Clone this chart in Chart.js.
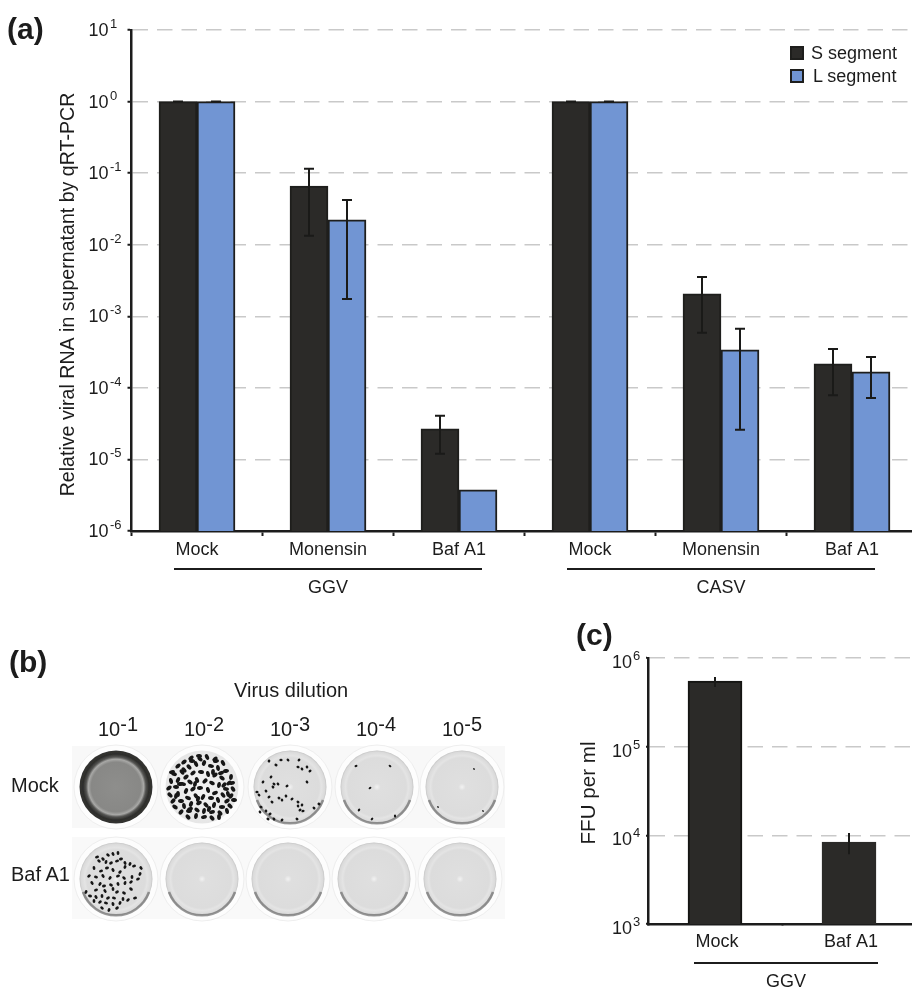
<!DOCTYPE html>
<html>
<head>
<meta charset="utf-8">
<title>Relative viral RNA</title>
<script src="https://cdn.jsdelivr.net/npm/chart.js@4/dist/chart.umd.min.js"></script>
<style>
  html, body { margin: 0; background: #fff; overflow: hidden; width: 912px; height: 987px; }
  body { position: relative; font-family: "Liberation Sans", Arial, sans-serif; color: #1c1c1c; }
  canvas { position: absolute; }
  #chartA { left: 0; top: 0; }
  #chartC { left: 570px; top: 633px; }
  .txt { position: absolute; white-space: nowrap; line-height: 1; }
  .panel { font-weight: bold; font-size: 30px; }
  .swatch { position: absolute; width: 10px; height: 10px; border: 2px solid #1e1e1c; }
  sup { font-size: 100%; line-height: 0; position: relative; vertical-align: 5px; }
  #plates { position: absolute; left: 0; top: 0; }
</style>
</head>
<body>
<canvas id="chartA" width="930" height="610"></canvas>
<canvas id="chartC" width="358" height="367"></canvas>
<svg id="plates" width="912" height="987" xmlns="http://www.w3.org/2000/svg"></svg>
<div id="texts"></div>

<script>
// panel (a)
const treatments = ['Mock', 'Monensin', 'Baf A1', 'Mock', 'Monensin', 'Baf A1']
const sSegment = [1, 0.066, 2.67e-5, 1, 2.06e-3, 2.16e-4]
const sLow = [1, 0.0133, 1.2e-5, 1, 5.9e-4, 7.9e-5]
const sHigh = [1, 0.115, 4.07e-5, 1, 3.55e-3, 3.5e-4]
const lSegment = [1, 0.0222, 3.76e-6, 1, 3.4e-4, 1.67e-4]
const lLow = [1, 0.00175, null, 1, 2.6e-5, 7.2e-5]
const lHigh = [1, 0.0423, null, 1, 6.7e-4, 2.7e-4]
const ticksA = [1e-6, 1e-5, 1e-4, 1e-3, 1e-2, 1e-1, 1, 10]
const virusNames = ['GGV', 'CASV']
const virusFrom = [0, 3]
const virusTo = [2, 5]

// panel (c)
const treatmentsC = ['Mock', 'Baf A1']
const ffu = [5.5e5, 8.4e3]
const ffuLow = [4.7e5, 6.1e3]
const ffuHigh = [6.1e5, 1.06e4]
const ticksC = [1e3, 1e4, 1e5, 1e6]

// panel (b)
const dilutions = ['-1', '-2', '-3', '-4', '-5']
const wellRows = ['Mock', 'Baf A1']

// plaques, dx dy from the centre of the well
const plaquesMock2 = [
  [-24,-21],[-18,-25],[-11,-29],[-3,-31],[5,-30],[13,-28],[21,-24],[-28,-13],[-20,-15],[-13,-20],[-6,-23],[2,-24],[9,-21],[16,-19],[24,-16],[29,-10],
  [-31,-6],[-24,-7],[-16,-10],[-9,-14],[-1,-15],[6,-13],[13,-12],[20,-9],[27,-4],[-33,1],[-26,0],[-19,-3],[-12,-5],[-5,-7],[3,-6],[10,-4],[17,-2],[24,2],[31,2],
  [-32,8],[-24,7],[-16,4],[-9,2],[-2,1],[6,3],[13,6],[21,8],[29,9],[-29,14],[-21,14],[-14,11],[-6,9],[1,10],[9,11],[16,13],[25,14],[32,13],
  [-27,20],[-18,19],[-11,17],[-3,16],[4,18],[12,18],[20,20],[28,19],[-21,25],[-13,24],[-5,23],[2,24],[10,25],[18,26],[25,24],[-14,30],[-6,29],[2,30],[10,31],[17,30],
  [-30,-15],[-2,-28],[30,-4],[-10,-26],[-22,-3],[14,-26],[-7,-3],[11,-15],[22,-2],[-26,9],[-12,22],[7,22],[26,7],[-4,12],[-18,-17],[19,-14]
]
const plaquesBaf1 = [
  [-19,-22],[-17,-18],[-13,-20],[-8,-24],[-3,-25],[2,-26],[-10,-17],[-5,-16],[1,-18],[5,-20],[9,-16],[14,-15],[-22,-11],[-15,-8],[-9,-11],[-3,-9],[4,-7],[9,-12],[18,-13],[25,-11],
  [-27,-3],[-20,-2],[-13,-3],[-6,-1],[2,-3],[8,-1],[16,-2],[24,-5],[-24,4],[-16,5],[-12,7],[-5,6],[2,5],[9,4],[15,3],[22,0],[-20,11],[-11,12],[-3,10],[1,13],[8,14],[15,10],
  [-30,13],[-26,17],[-20,18],[-14,17],[-8,19],[-2,19],[7,20],[-22,22],[-16,23],[-10,24],[-3,25],[4,24],[12,21],[-14,29],[-7,31],[1,29],[19,19]
]
const plaquesMock3 = [
  [-21,-26],[-14,-22],[-9,-27],[-2,-27],[9,-27],[8,-20],[12,-18],[17,-20],[20,-16],[-27,-5],[-19,-10],[-16,-3],[-17,0],[-12,-3],[-33,5],[-31,8],[-24,4],[-21,10],[-29,20],
  [-24,24],[-20,27],[-18,15],[-11,11],[-8,13],[-4,9],[2,12],[8,15],[8,19],[12,18],[10,23],[13,24],[24,21],[29,17],[-30,25],[-22,32],[-16,32],[-8,33],[7,32],[-3,-1],[17,-5]
]
const plaquesMock4 = [[-21,-21],[13,-21],[-7,1],[-18,23],[18,29],[-5,32]]
const plaquesFew = [[-24,20],[12,-18],[21,24]]

const wellColumnsTop = [116, 202, 290, 377, 462]
const wellColumnsBottom = [116, 202, 288, 374, 460]
const ink = '#1c1c1c'

// error bars are read through the chart's own scale and bar elements
const errorBarPlugin = {
  id: 'errorBars',
  afterDatasetsDraw(chart, args, opts) {
    const { ctx } = chart
    const y = chart.scales.y
    opts.low.forEach((low, d) => {
      const bars = chart.getDatasetMeta(d).data
      low.forEach((lo, i) => {
        const hi = opts.high[d][i]
        if (lo === null) return
        const x = bars[i].x
        ctx.save()
        ctx.strokeStyle = '#1a1a18'
        ctx.lineWidth = 2
        ctx.beginPath()
        ctx.moveTo(x, y.getPixelForValue(hi))
        ctx.lineTo(x, y.getPixelForValue(lo))
        if (opts.cap) {
          for (const v of [lo, hi]) {
            ctx.moveTo(x - opts.cap / 2, y.getPixelForValue(v))
            ctx.lineTo(x + opts.cap / 2, y.getPixelForValue(v))
          }
        }
        ctx.stroke()
        ctx.restore()
      })
    })
  },
}

// exponents, the axis title and the line under each virus group
const annotationPlugin = {
  id: 'annotations',
  afterDraw(chart, args, opts) {
    const { ctx } = chart
    const y = chart.scales.y
    const x = chart.scales.x
    ctx.save()
    ctx.fillStyle = ink
    ctx.textBaseline = 'alphabetic'
    ctx.textAlign = 'left'
    ctx.font = opts.expFont
    y.ticks.forEach((t) => {
      ctx.fillText(String(Math.round(Math.log10(t.value))), opts.expX, y.getPixelForValue(t.value) + opts.expDy)
    })

    ctx.textAlign = 'center'
    ctx.font = '18px "Liberation Sans"'
    opts.groups.names.forEach((name, i) => {
      const a = x.getPixelForValue(opts.groups.from[i]) - opts.groups.padLeft
      const b = x.getPixelForValue(opts.groups.to[i]) + opts.groups.padRight
      ctx.fillRect(a, opts.groups.lineY - 1, b - a, 2)
      ctx.fillText(name, (a + b) / 2, opts.groups.textY)
    })

    ctx.font = opts.title.font
    ctx.translate(opts.title.x, opts.title.y)
    ctx.rotate(-Math.PI / 2)
    ctx.fillText(opts.title.text, 0, 0)
    ctx.restore()
  },
}

function logAxis(tickValues, tickLength, padding, labelOffset, width) {
  return {
    type: 'logarithmic',
    min: tickValues[0],
    max: tickValues[tickValues.length - 1],
    afterBuildTicks: (s) => { s.ticks = tickValues.map((v) => ({ value: v })) },
    afterFit: (s) => { s.width = width },
    ticks: {
      callback: () => '10',
      autoSkip: false,
      color: ink,
      padding: padding,
      labelOffset: labelOffset,
      font: { family: 'Liberation Sans', size: 18 },
    },
    grid: { color: '#c9c9c9', lineWidth: 1.5, tickColor: ink, tickWidth: 2, tickLength: tickLength },
    border: { color: ink, width: 2.5, dash: [15.5, 9] },
  }
}

function categoryAxis(height, tickLength, padding, labelOffset) {
  return {
    afterFit: (s) => { s.height = height },
    ticks: { color: ink, padding: padding, labelOffset: labelOffset, maxRotation: 0, autoSkip: false, font: { family: 'Liberation Sans', size: 18 } },
    grid: { drawOnChartArea: false, tickColor: ink, tickWidth: 2, tickLength: tickLength },
    border: { color: ink, width: 2.5 },
  }
}

new Chart(document.getElementById('chartA'), {
  type: 'bar',
  plugins: [errorBarPlugin, annotationPlugin],
  data: {
    labels: treatments,
    datasets: [
      { label: 'S segment', data: sSegment, backgroundColor: '#2b2a28', borderColor: '#1e1e1c', borderWidth: 2 },
      { label: 'L segment', data: lSegment, backgroundColor: '#7195d3', borderColor: '#1e1e1c', borderWidth: 2 },
    ],
  },
  options: {
    responsive: false,
    animation: false,
    layout: { padding: { top: 30, right: 12.5, left: 0, bottom: 0 } },
    datasets: { bar: { barThickness: 38 } },
    scales: {
      x: categoryAxis(79, 5, 3, 0),
      y: logAxis(ticksA, 4, 19, 1, 131.5),
    },
    plugins: {
      legend: { display: false },
      tooltip: { enabled: false },
      errorBars: { low: [sLow, lLow], high: [sHigh, lHigh], cap: 10 },
      annotations: {
        expFont: '13px "Liberation Sans"',
        expX: 110,
        expDy: -2,
        title: { text: 'Relative viral RNA in supernatant by qRT-PCR', font: '19.6px "Liberation Sans"', x: 74, y: 294.5 },
        groups: { names: virusNames, from: virusFrom, to: virusTo, padLeft: 23, padRight: 23, lineY: 569, textY: 593 },
      },
    },
  },
})

new Chart(document.getElementById('chartC'), {
  type: 'bar',
  plugins: [errorBarPlugin, annotationPlugin],
  data: {
    labels: treatmentsC,
    datasets: [
      { label: 'FFU per ml', data: ffu, backgroundColor: '#2b2a28', borderColor: ['#141412', '#2b2a28'], borderWidth: 2 },
    ],
  },
  options: {
    responsive: false,
    animation: false,
    layout: { padding: { top: 25, right: 12, left: 0, bottom: 0 } },
    datasets: { bar: { barThickness: 54 } },
    scales: {
      x: categoryAxis(76, 2, 5, 2),
      y: logAxis(ticksC, 2, 14, 5, 78),
    },
    plugins: {
      legend: { display: false },
      tooltip: { enabled: false },
      errorBars: { low: [ffuLow], high: [ffuHigh], cap: 0 },
      annotations: {
        expFont: '13px "Liberation Sans"',
        expX: 63,
        expDy: 2,
        title: { text: 'FFU per ml', font: '20.6px "Liberation Sans"', x: 25, y: 160 },
        groups: { names: ['GGV'], from: [0], to: [1], padLeft: 21, padRight: 29, lineY: 330, textY: 354 },
      },
    },
  },
})

// the text around the panels
const texts = document.getElementById('texts')
function addText(text, x, y, size, cls) {
  const d = document.createElement('div')
  d.className = 'txt ' + (cls || '')
  d.style.left = x + 'px'
  d.style.top = y + 'px'
  d.style.fontSize = size + 'px'
  d.innerHTML = text
  texts.appendChild(d)
}
addText('(a)', 7, 14, 30, 'panel')
addText('(b)', 9, 647, 30, 'panel')
addText('(c)', 576, 620, 30, 'panel')
addText('Virus dilution', 234, 680, 20)
dilutions.forEach((e, i) => addText('10<sup>' + e + '</sup>', 98 + i * 86, 719, 20))
addText(wellRows[0], 11, 775, 20)
addText(wellRows[1], 11, 864, 20)

const seriesLegend = [['S segment', '#2b2a28', 46, 811], ['L segment', '#7195d3', 69, 813]]
seriesLegend.forEach(([name, colour, top, left]) => {
  const s = document.createElement('div')
  s.className = 'swatch'
  s.style.left = '790px'
  s.style.top = top + 'px'
  s.style.background = colour
  texts.appendChild(s)
  addText(name, left, top - 2, 18)
})

// panel (b) is a photo of the plates, redrawn as wells and plaques
const NS = 'http://www.w3.org/2000/svg'
const svg = document.getElementById('plates')
function el(name, attrs, parent) {
  const e = document.createElementNS(NS, name)
  for (const k in attrs) e.setAttribute(k, attrs[k])
  ;(parent || svg).appendChild(e)
  return e
}
const defs = el('defs', {})
function gradient(id, stops) {
  const g = el('radialGradient', { id: id, cx: '50%', cy: '50%', r: '50%' }, defs)
  stops.forEach(([o, c]) => el('stop', { offset: o, 'stop-color': c }, g))
}
gradient('pale', [['0', '#f2f2f2'], ['0.1', '#dfdfdf'], ['0.8', '#dcdcdc'], ['0.86', '#e4e4e4'], ['0.96', '#dadada'], ['1', '#c4c4c4']])
gradient('stained', [['0', '#8e8e8c'], ['0.68', '#888886'], ['0.76', '#a8a8a6'], ['0.82', '#555553'], ['0.9', '#2e2e2c'], ['1', '#333331']])
gradient('dense', [['0', '#f4f4f4'], ['1', '#e6e6e6']])
const blur = el('filter', { id: 'soft', x: '-20%', y: '-20%', width: '140%', height: '140%' }, defs)
el('feGaussianBlur', { stdDeviation: 0.5 }, blur)

el('rect', { x: 72, y: 746, width: 433, height: 82, fill: '#f8f8f8' })
el('rect', { x: 72, y: 837, width: 433, height: 82, fill: '#f9f9f9' })

function drawWell(cx, cy, fill, plaques, rx, ry) {
  el('circle', { cx: cx, cy: cy, r: 42, fill: '#fdfdfd', stroke: '#eeeeee', 'stroke-width': 1 })
  const g = el('g', { filter: 'url(#soft)' })
  el('circle', { cx: cx, cy: cy, r: 36.5, fill: 'url(#' + fill + ')' }, g)
  if (fill === 'pale') {
    el('path', { d: `M ${cx - 33} ${cy + 13} A 35 35 0 0 0 ${cx + 33} ${cy + 13}`, fill: 'none', stroke: '#6e6e6e', 'stroke-width': 2.5, opacity: 0.7 }, g)
  }
  plaques.forEach(([dx, dy]) => {
    el('ellipse', {
      cx: cx + dx, cy: cy + dy,
      rx: rx, ry: ry,
      fill: '#141414',
      transform: `rotate(${dx * 7 + dy * 11} ${cx + dx} ${cy + dy})`,
    }, g)
  })
}

drawWell(wellColumnsTop[0], 787, 'stained', [], 0, 0)
drawWell(wellColumnsTop[1], 787, 'dense', plaquesMock2, 3, 1.9)
drawWell(wellColumnsTop[2], 787, 'pale', plaquesMock3, 1.6, 1.3)
drawWell(wellColumnsTop[3], 787, 'pale', plaquesMock4, 1.5, 1.1)
drawWell(wellColumnsTop[4], 787, 'pale', plaquesFew, 1, 0.8)
drawWell(wellColumnsBottom[0], 879, 'pale', plaquesBaf1, 2, 1.4)
drawWell(wellColumnsBottom[1], 879, 'pale', [], 0, 0)
drawWell(wellColumnsBottom[2], 879, 'pale', [], 0, 0)
drawWell(wellColumnsBottom[3], 879, 'pale', [], 0, 0)
drawWell(wellColumnsBottom[4], 879, 'pale', [], 0, 0)
</script>
</body>
</html>
